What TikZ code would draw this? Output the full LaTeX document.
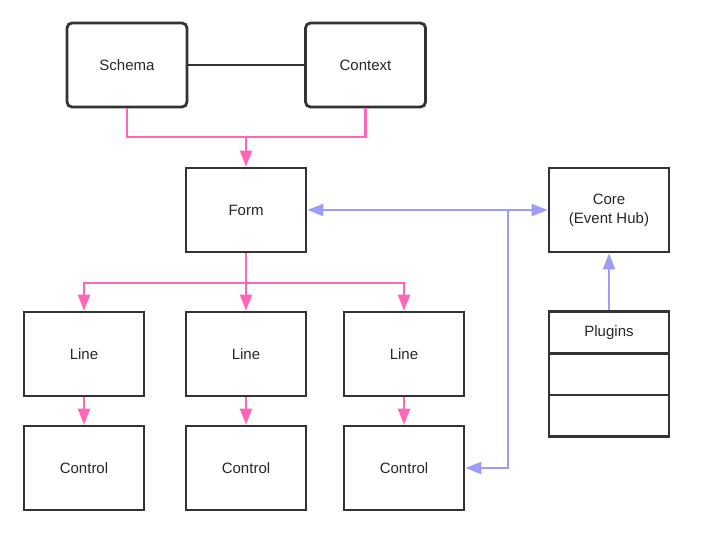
\documentclass[tikz,border=0pt]{standalone}
\usepackage{fontspec}
\setmainfont{Liberation Sans}
\usetikzlibrary{arrows.meta,positioning}

\definecolor{pinkline}{HTML}{FF66B8}
\definecolor{blueline}{HTML}{9C9CFA}
\definecolor{boxline}{HTML}{333333}

\begin{document}
\begin{tikzpicture}[x=1pt,y=-1pt,
        box/.style={draw=boxline, line width=2.8pt, minimum width=120pt, minimum height=84pt,
            align=center, text=black!85, font=\fontsize{15}{19}\selectfont},
        roundbox/.style={box, rounded corners=5pt},
        plugbox/.style={box, minimum height=41.7pt},
        pinkflow/.style={draw=pinkline, line width=2.5pt},
        blueflow/.style={draw=blueline, line width=2.5pt},
        tip/.style={-{Triangle[length=16pt,width=12pt]}}]
        \useasboundingbox (0,0) rectangle (720,550);

        % top row
        \node[roundbox] (schema) at (127,65) {Schema};
        \node[roundbox] (context) at (365.5,65) {Context};
        \draw[boxline, line width=2.8pt] (schema) -- (context);

        % form and core
        \node[box] (form) at (246,210) {Form};
        \node[box] (core) at (609,210) {Core\\(Event Hub)};
        \node[plugbox] (plugA) at (609,332.5) {Plugins};
        \node[plugbox, below=-2.8pt of plugA] (plugB) {};
        \node[plugbox, below=-2.8pt of plugB] (plugC) {};

        % lines and controls
        \node[box] (line1) at (84,354) {Line};
        \node[box] (line2) at (246,354) {Line};
        \node[box] (line3) at (404,354) {Line};
        \node[box] (ctrl1) at (84,468) {Control};
        \node[box] (ctrl2) at (246,468) {Control};
        \node[box] (ctrl3) at (404,468) {Control};

        % pink flow
        \coordinate (merge) at (246,137);
        \coordinate (split) at (246,283);
        \draw[pinkflow] (schema.south) |- (merge) -| (context.south);
        \draw[pinkflow, tip] (merge) -- (form);
        \draw[pinkflow] (form) -- (split);
        \draw[pinkflow, tip] (split) -| (line1);
        \draw[pinkflow, tip] (split) -| (line3);
        \draw[pinkflow, tip] (split) -- (line2);
        \draw[pinkflow, tip] (line1) -- (ctrl1);
        \draw[pinkflow, tip] (line2) -- (ctrl2);
        \draw[pinkflow, tip] (line3) -- (ctrl3);

        % blue events
        \coordinate (tap) at (508,210);
        \draw[blueflow, {Triangle[length=16pt,width=12pt]}-{Triangle[length=16pt,width=12pt]}] (form) -- (core);
        \draw[blueflow, tip] (tap) |- (ctrl3);
        \draw[blueflow, tip] (plugA) -- (core);
\end{tikzpicture}
\end{document}
